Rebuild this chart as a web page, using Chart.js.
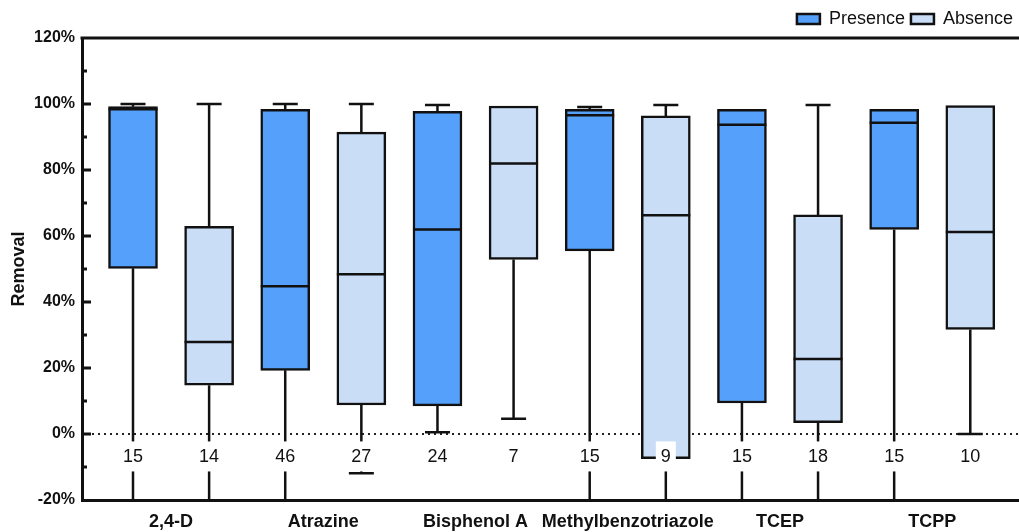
<!DOCTYPE html>
<html>
<head>
<meta charset="utf-8">
<script src="https://cdn.jsdelivr.net/npm/chart.js@4.4.0/dist/chart.umd.min.js"></script>
<style>
  html, body { margin: 0; padding: 0; background: #fff; }
  #wrap { width: 1019px; height: 532px; }
</style>
</head>
<body>
<div id="wrap"><canvas id="boxChart"></canvas></div>
<script>
// Compounds on the x axis, each one with a Presence box and an Absence box
const compounds = ['2,4-D', 'Atrazine', 'Bisphenol A', 'Methylbenzotriazole', 'TCEP', 'TCPP'];
const groups = ['Presence', 'Absence'];

// Box statistics (removal, %), one entry per box: P, A, P, A, ...
const boxMin    = [-25, -25, -25, -11.9, 0.5, 4.6, -25, -25, -25, -25, -25, 0];
const boxQ1     = [50.2, 14.8, 19.3, 8.8, 8.5, 52.9, 55.5, -7.5, 9.4, 3.4, 62, 31.7];
const boxMedian = [98.4, 27.9, 44.8, 48.4, 62, 82, 96.6, 66.3, 93.7, 22.7, 94.3, 61.2];
const boxQ3     = [99.2, 62.9, 98.4, 91.5, 97.8, 99.4, 98.4, 96.4, 98.4, 66.4, 98.4, 99.5];
const boxMax    = [100, 100, 100, 100, 99.7, 99.4, 99.1, 99.7, 98.4, 99.7, 98.4, 99.5];
const sampleCounts = [15, 14, 46, 27, 24, 7, 15, 9, 15, 18, 15, 10];

// where the n labels sit, in axis units
const countRowValue = -6.8;

const FONT = '"Liberation Sans", Arial, sans-serif';
const INK = '#111';

function groupData(g) {
    return boxQ1
        .map((q1, i) => ({ x: i, y: [q1, boxQ3[i]] }))
        .filter((d, i) => i % 2 === g);
}

// medians, whiskers, zero line, n labels and inward axis ticks
const boxPlotExtras = {
    id: 'boxPlotExtras',
    beforeDatasetsDraw(chart) {
        const { ctx, chartArea: a, scales: { y } } = chart;
        const y0 = y.getPixelForValue(0);
        ctx.save();
        ctx.strokeStyle = '#222';
        ctx.lineWidth = 2;
        ctx.setLineDash([2, 4]);
        ctx.beginPath();
        ctx.moveTo(a.left + 10, y0);
        ctx.lineTo(a.right, y0);
        ctx.stroke();
        ctx.restore();
    },
    afterDatasetsDraw(chart) {
        const { ctx, chartArea: a, scales: { x, y } } = chart;
        ctx.save();
        ctx.beginPath();
        ctx.rect(a.left, a.top, a.right - a.left, a.bottom - a.top);
        ctx.clip();
        ctx.strokeStyle = INK;
        ctx.lineWidth = 2.5;
        const capHalf = 12.5;
        boxMedian.forEach((m, i) => {
            const bar = chart.getDatasetMeta(i % 2).data[Math.floor(i / 2)];
            const cx = x.getPixelForValue(i);
            const half = bar.width / 2;
            const yq1 = y.getPixelForValue(boxQ1[i]);
            const yq3 = y.getPixelForValue(boxQ3[i]);
            const ymin = y.getPixelForValue(boxMin[i]);
            const ymax = y.getPixelForValue(boxMax[i]);
            const ym = y.getPixelForValue(m);
            ctx.beginPath();
            ctx.moveTo(cx - half, ym);
            ctx.lineTo(cx + half, ym);
            if (boxMax[i] > boxQ3[i]) {
                ctx.moveTo(cx, yq3);
                ctx.lineTo(cx, ymax);
                ctx.moveTo(cx - capHalf, ymax);
                ctx.lineTo(cx + capHalf, ymax);
            }
            if (boxMin[i] < boxQ1[i]) {
                ctx.moveTo(cx, yq1);
                ctx.lineTo(cx, ymin);
                ctx.moveTo(cx - capHalf, ymin);
                ctx.lineTo(cx + capHalf, ymin);
            }
            ctx.stroke();
        });

        // sample sizes on a white patch
        ctx.font = '18px ' + FONT;
        ctx.textAlign = 'center';
        ctx.textBaseline = 'middle';
        const ty = y.getPixelForValue(countRowValue);
        sampleCounts.forEach((n, i) => {
            const cx = x.getPixelForValue(i);
            const txt = String(n);
            const w = ctx.measureText(txt).width + 10;
            ctx.fillStyle = '#fff';
            ctx.fillRect(cx - w / 2, ty - 15, w, 30);
            ctx.fillStyle = INK;
            ctx.fillText(txt, cx, ty + 1);
        });
        ctx.restore();
    },
    afterDraw(chart) {
        const { ctx, chartArea: a, scales: { y } } = chart;
        ctx.save();
        ctx.strokeStyle = INK;
        ctx.lineWidth = 3;
        ctx.beginPath();
        // top frame line
        ctx.moveTo(a.left - 1.5, a.top);
        ctx.lineTo(a.right, a.top);
        // inward ticks on the y axis
        y.ticks.forEach(t => {
            if (t.value <= y.min || t.value >= y.max) return;
            const py = y.getPixelForValue(t.value);
            const len = t.value % 20 === 0 ? 9 : 5;
            ctx.moveTo(a.left, py);
            ctx.lineTo(a.left + len, py);
        });
        ctx.stroke();
        ctx.restore();
    }
};

new Chart(document.getElementById('boxChart'), {
    type: 'bar',
    data: {
        datasets: groups.map((g, gi) => ({
            label: g,
            data: groupData(gi),
            backgroundColor: gi === 0 ? '#55a0fb' : '#c9ddf7',
            borderColor: INK,
            borderWidth: 2.5,
            borderSkipped: false,
            barThickness: 49,
            grouped: false
        }))
    },
    options: {
        responsive: true,
        maintainAspectRatio: false,
        animation: false,
        layout: { padding: { left: 0, right: 0, top: 4, bottom: 0 } },
        plugins: {
            tooltip: { enabled: false },
            legend: {
                position: 'top',
                align: 'end',
                labels: {
                    boxWidth: 23,
                    boxHeight: 10,
                    padding: 6,
                    color: INK,
                    font: { family: FONT, size: 18 }
                }
            }
        },
        scales: {
            x: {
                type: 'linear',
                min: -0.67,
                max: 11.64,
                offset: false,
                grid: { display: false, drawTicks: false },
                border: { display: true, color: INK, width: 3 },
                afterBuildTicks: scale => {
                    scale.ticks = compounds.map((c, i) => ({ value: i * 2 + 0.5 }));
                },
                afterFit: scale => { scale.height = 32; },
                ticks: {
                    autoSkip: false,
                    maxRotation: 0,
                    padding: 11,
                    color: INK,
                    font: { family: FONT, size: 18, weight: 'bold' },
                    callback: v => compounds[Math.round((v - 0.5) / 2)]
                }
            },
            y: {
                min: -20,
                max: 120,
                grid: { display: false, drawTicks: false },
                border: { display: true, color: INK, width: 3 },
                afterFit: scale => { scale.width = 82; },
                title: {
                    display: true,
                    text: 'Removal',
                    color: INK,
                    padding: { top: 8, bottom: 0 },
                    font: { family: FONT, size: 18, weight: 'bold' }
                },
                ticks: {
                    stepSize: 10,
                    padding: 7,
                    color: INK,
                    font: { family: FONT, size: 16, weight: 'bold' },
                    callback: v => (v % 20 === 0 ? v + '%' : '')
                }
            }
        }
    },
    plugins: [boxPlotExtras]
});
</script>
</body>
</html>
